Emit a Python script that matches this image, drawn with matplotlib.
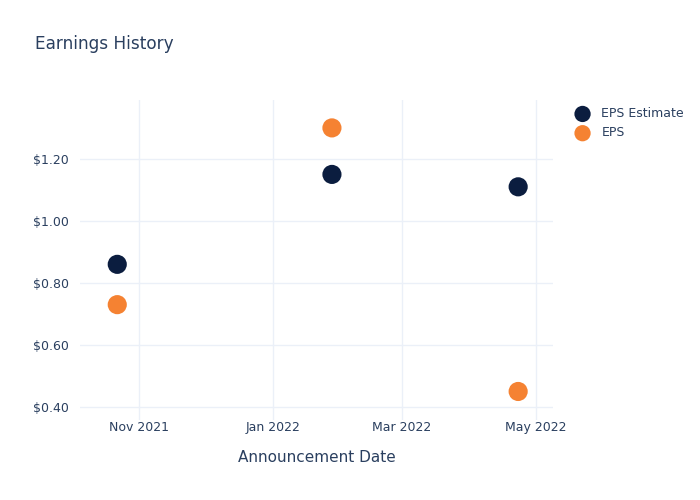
import matplotlib.pyplot as plt
import matplotlib.dates as mdates
import numpy as np

dates = np.array(['2021-10-22', '2022-01-28', '2022-04-23'], dtype='datetime64[D]')
eps_estimate = [0.86, 1.15, 1.11]
eps_actual = [0.73, 1.30, 0.45]

navy = '#0b1d3f'
orange = '#f58232'
text_col = '#2a3f5f'
grid_col = '#ebf0f8'

fig = plt.figure(figsize=(7, 5), dpi=100)
ax = fig.add_axes([0.1143, 0.16, 0.676, 0.64])

ax.scatter(dates, eps_estimate, s=190, color=navy, label='EPS Estimate', zorder=3, edgecolors='none')
ax.scatter(dates, eps_actual, s=190, color=orange, label='EPS', zorder=3, edgecolors='none')

ax.set_xlim(np.datetime64('2021-10-05'), np.datetime64('2022-05-09'))
ax.set_ylim(0.358, 1.39)

ax.xaxis.set_major_locator(mdates.MonthLocator(bymonth=[1, 3, 5, 11]))
ax.xaxis.set_major_formatter(mdates.DateFormatter('%b %Y'))
ax.set_yticks([0.4, 0.6, 0.8, 1.0, 1.2])
ax.set_yticklabels(['$%.2f' % v for v in [0.4, 0.6, 0.8, 1.0, 1.2]])

ax.grid(True, color=grid_col, linewidth=1)
ax.set_axisbelow(True)
for s in ax.spines.values():
    s.set_visible(False)
ax.tick_params(length=0, labelsize=9, labelcolor=text_col)
ax.tick_params(axis='y', pad=8)
ax.tick_params(axis='x', pad=1)
ax.set_xlabel('Announcement Date', fontsize=11, color=text_col, labelpad=11)

fig.text(0.05, 0.912, 'Earnings History', fontsize=12.2, color=text_col, va='center')

leg = ax.legend(loc='upper left', bbox_to_anchor=(1.025, 0.993), frameon=False,
                fontsize=9, labelcolor=text_col, handletextpad=0.5, labelspacing=0.5,
                borderaxespad=0, markerscale=0.85)

fig.savefig('out.png', dpi=100)
